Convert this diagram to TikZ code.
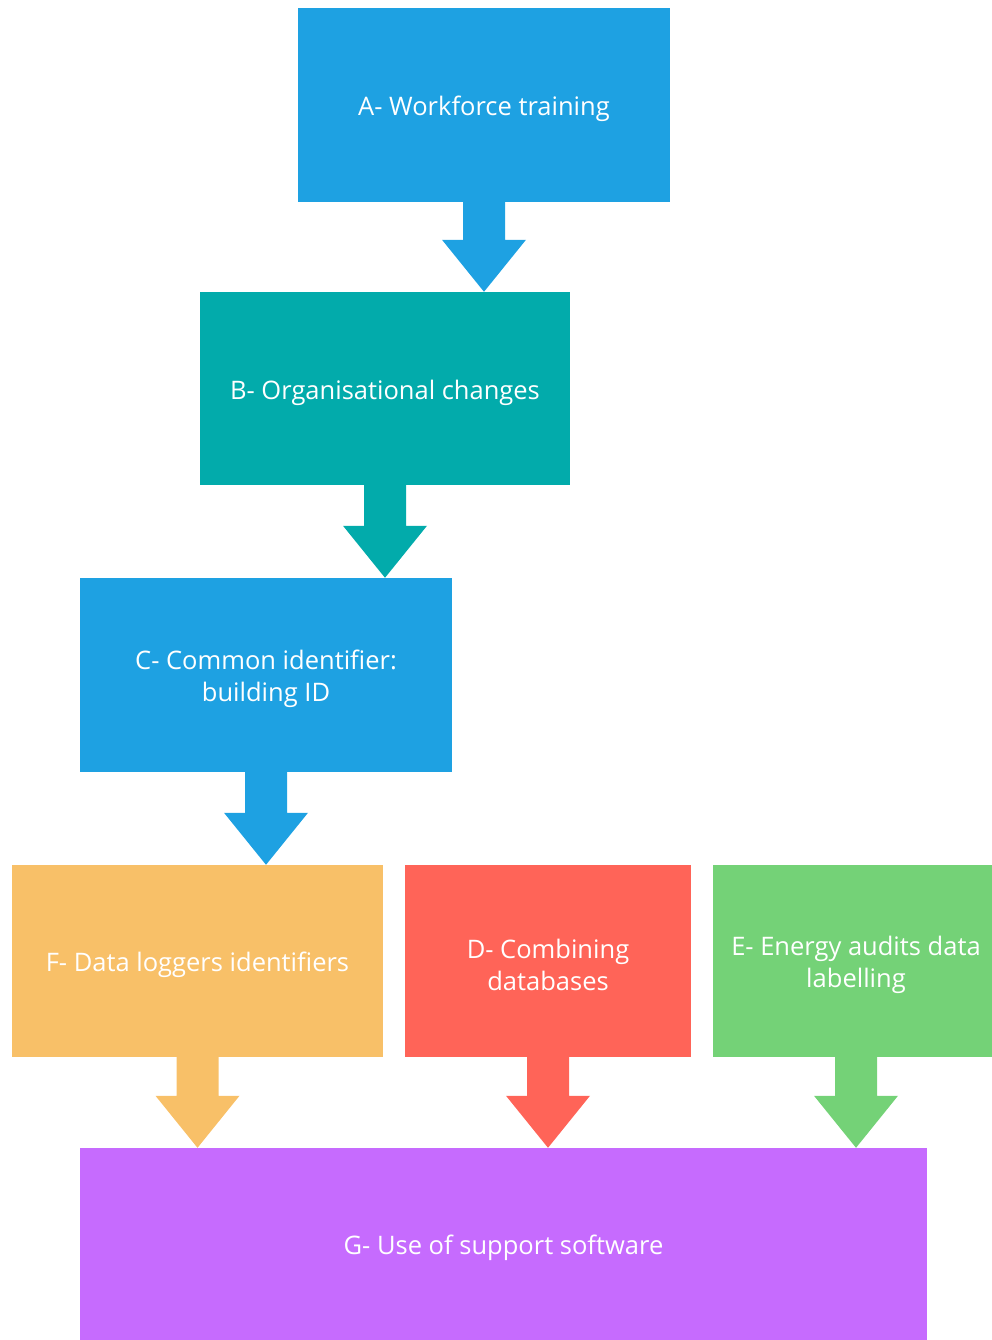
\documentclass[tikz,border=0pt]{standalone}
\usepackage{fontspec}
\setmainfont{Open Sans}
\usetikzlibrary{calc}
\definecolor{cblue}{HTML}{1EA1E2}
\definecolor{cteal}{HTML}{02ABAB}
\definecolor{corange}{HTML}{F8C068}
\definecolor{cred}{HTML}{FF6458}
\definecolor{cgreen}{HTML}{74D277}
\definecolor{cpurple}{HTML}{C66BFE}
\tikzset{
  box/.style={rectangle, inner sep=0pt},
  boxtext/.style={text=white, align=center, inner sep=0pt, yshift=-4,
    font=\fontsize{25.5}{32}\selectfont},
}
% block arrow from the bottom of node #1 down to the top of node #2
\newcommand{\flowarrow}[3]{%
  \coordinate (tip) at (#1.south |- #2.north);
  \fill[#3] ($(#1.south)+(-21,0)$) -- ($(tip)+(-21,52)$) -- ($(tip)+(-42,52)$)
    -- (tip) -- ($(tip)+(42,52)$) -- ($(tip)+(21,52)$) -- ($(#1.south)+(21,0)$) -- cycle;
}
\begin{document}
\begin{tikzpicture}[x=1pt,y=1pt]
\useasboundingbox (0,0) rectangle (992,1340);
% y = 1340 - pixel row
\node[box, fill=cblue, minimum width=372, minimum height=194,
  label={[boxtext]center:A- Workforce training}] (A) at (484,1235) {};
\node[box, fill=cteal, minimum width=370, minimum height=193,
  label={[boxtext]center:B- Organisational changes}] (B) at (385,951.5) {};
\node[box, fill=cblue, minimum width=372, minimum height=194,
  label={[boxtext]center:C- Common identifier:\\building ID}] (C) at (266,665) {};
\node[box, fill=corange, minimum width=371, minimum height=192,
  label={[boxtext]center:F- Data loggers identifiers}] (F) at (197.5,379) {};
\node[box, fill=cred, minimum width=286, minimum height=192,
  label={[boxtext]center:D- Combining\\databases}] (D) at (548,379) {};
\node[box, fill=cgreen, minimum width=286, minimum height=192,
  label={[boxtext]center:E- Energy audits data\\labelling}] (E) at (856,379) {};
\node[box, fill=cpurple, minimum width=847, minimum height=192,
  label={[boxtext]center:G- Use of support software}] (G) at (503.5,96) {};
\flowarrow{A}{B}{cblue}
\flowarrow{B}{C}{cteal}
\flowarrow{C}{F}{cblue}
\flowarrow{F}{G}{corange}
\flowarrow{D}{G}{cred}
\flowarrow{E}{G}{cgreen}
\end{tikzpicture}
\end{document}
